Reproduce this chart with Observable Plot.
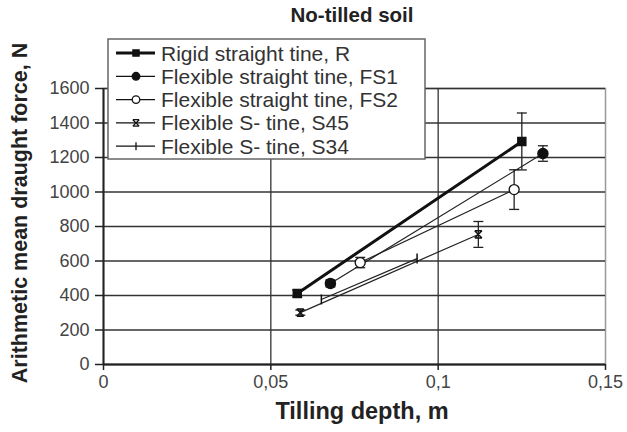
<!DOCTYPE html>
<html>
<head>
<meta charset="utf-8">
<script src="https://cdn.jsdelivr.net/npm/d3@7"></script>
<script src="https://cdn.jsdelivr.net/npm/@observablehq/plot@0.6"></script>
<style>
  html, body { margin: 0; padding: 0; background: #fff; }
  #chart { position: relative; width: 627px; height: 432px; }
  svg { font-family: "Liberation Sans", Arial, sans-serif; }
</style>
</head>
<body>
<div id="chart"></div>
<script>
// ---- data ----
const title = "No-tilled soil";
const xLabel = "Tilling depth, m";
const yLabel = "Arithmetic mean draught force, N";
const seriesKeys = ["R", "FS1", "FS2", "S45", "S34"];
const seriesNames = ["Rigid straight tine, R", "Flexible straight tine, FS1", "Flexible straight tine, FS2", "Flexible S- tine, S45", "Flexible S- tine, S34"];

const rDepth = [0.0579, 0.125];   const rForce = [412, 1293];   const rErr = [20, 165];
const fs1Depth = [0.0678, 0.1313]; const fs1Force = [470, 1223]; const fs1Err = [20, 45];
const fs2Depth = [0.0767, 0.1227]; const fs2Force = [591, 1014]; const fs2Err = [30, 115];
const s45Depth = [0.0588, 0.112];  const s45Force = [301, 754];  const s45Err = [15, 75];
const s34Depth = [0.0651, 0.0937]; const s34Force = [377, 614];  const s34Err = [0, 0];

const xTicks = [0, 0.05, 0.1, 0.15];
const xTickLabels = ["0", "0,05", "0,1", "0,15"];
const yTicks = [0, 200, 400, 600, 800, 1000, 1200, 1400, 1600];

// ---- build table ----
const src = {
  R: [rDepth, rForce, rErr], FS1: [fs1Depth, fs1Force, fs1Err], FS2: [fs2Depth, fs2Force, fs2Err],
  S45: [s45Depth, s45Force, s45Err], S34: [s34Depth, s34Force, s34Err]
};
const data = [];
for (const k of seriesKeys) {
  const [xs, ys, es] = src[k];
  xs.forEach((x, i) => data.push({series: k, x, y: ys[i], err: es[i]}));
}
const withErr = data.filter(d => d.err > 0);

const cap = {draw(ctx, size) { const r = Math.sqrt(size / Math.PI); ctx.moveTo(-r, 0); ctx.lineTo(r, 0); }};
const vtick = {draw(ctx, size) { const r = Math.sqrt(size / Math.PI); ctx.moveTo(0, -r); ctx.lineTo(0, r); }};
const xmark = {draw(ctx, size) { const r = Math.sqrt(size / Math.PI) * 0.8; ctx.moveTo(-r, -r); ctx.lineTo(r, r); ctx.moveTo(-r, r); ctx.lineTo(r, -r); ctx.moveTo(-r, -r); ctx.lineTo(r, -r); ctx.moveTo(-r, r); ctx.lineTo(r, r);}};

const sym = {R: "square", FS1: "circle", FS2: "circle", S45: xmark, S34: vtick};
const fillOf = {R: "#111", FS1: "#111", FS2: "white", S45: "none", S34: "none"};
const sizeOf = {R: 4.5, FS1: 5, FS2: 5, S45: 4.5, S34: 5};

const marks = [
  Plot.frame({stroke: "#999", strokeWidth: 1.5}),
  Plot.gridY(yTicks, {stroke: "#333", strokeOpacity: 1, strokeWidth: 1.3}),
  Plot.gridX([0.05, 0.1], {stroke: "#333", strokeOpacity: 1, strokeWidth: 1.3}),
  Plot.ruleY([0], {stroke: "#222", strokeWidth: 2}),
  Plot.ruleX([0], {stroke: "#222", strokeWidth: 2}),
  Plot.axisY(yTicks, {tickSize: 8, tickPadding: 6, fontSize: 18, fill: "#444", stroke: "#222", strokeWidth: 1.5, label: null,
    tickFormat: d => String(d)}),
  Plot.axisX(xTicks, {tickSize: 6, tickPadding: 5, fontSize: 18, fill: "#444", stroke: "#222", strokeWidth: 1.5, label: null,
    tickFormat: d => xTickLabels[xTicks.indexOf(d)]}),
  Plot.ruleX(withErr, {x: "x", y1: d => d.y - d.err, y2: d => d.y + d.err, stroke: "#222", strokeWidth: 1.3}),
  Plot.dot(withErr, {x: "x", y: d => d.y - d.err, symbol: cap, r: 5, stroke: "#222", strokeWidth: 1.3}),
  Plot.dot(withErr, {x: "x", y: d => d.y + d.err, symbol: cap, r: 5, stroke: "#222", strokeWidth: 1.3}),
  Plot.line(data.filter(d => d.series !== "R"), {x: "x", y: "y", z: "series", stroke: "#222", strokeWidth: 1.2}),
  Plot.line(data.filter(d => d.series === "R"), {x: "x", y: "y", stroke: "#111", strokeWidth: 3})
];
for (const k of seriesKeys) {
  marks.push(Plot.dot(data.filter(d => d.series === k), {
    x: "x", y: "y", symbol: sym[k], r: sizeOf[k], fill: fillOf[k], stroke: "#111", strokeWidth: k === "FS2" ? 1.3 : 1.5
  }));
}

const plot = Plot.plot({
  width: 627, height: 432,
  marginLeft: 103, marginRight: 22, marginTop: 88, marginBottom: 68,
  style: {fontFamily: "Liberation Sans, Arial, sans-serif", background: "white"},
  x: {domain: [0, 0.15]},
  y: {domain: [0, 1600]},
  marks
});
document.getElementById("chart").appendChild(plot);

// ---- titles and legend ----
const svg = d3.select(plot);
svg.append("text").attr("x", 352).attr("y", 22).attr("text-anchor", "middle")
  .attr("font-size", 20.5).attr("font-weight", "bold").attr("fill", "#222").text(title);
svg.append("text").attr("x", 362).attr("y", 419).attr("text-anchor", "middle")
  .attr("font-size", 23.5).attr("font-weight", "bold").attr("fill", "#222").text(xLabel);
svg.append("text").attr("transform", "translate(27,213) rotate(-90)").attr("text-anchor", "middle")
  .attr("font-size", 21.5).attr("font-weight", "bold").attr("fill", "#222").text(yLabel);

const lg = svg.append("g");
lg.append("rect").attr("x", 108).attr("y", 39).attr("width", 317).attr("height", 120)
  .attr("fill", "white").attr("stroke", "#666").attr("stroke-width", 1.5);
seriesKeys.forEach((k, i) => {
  const cy = 53 + i * 23.3;
  lg.append("line").attr("x1", 116).attr("x2", 155).attr("y1", cy).attr("y2", cy)
    .attr("stroke", "#111").attr("stroke-width", k === "R" ? 3 : 1.3);
  const s = sym[k];
  const symObj = typeof s === "string" ? (s === "square" ? d3.symbolSquare : d3.symbolCircle) : s;
  const r = k === "R" ? 3.5 : (k === "S34" || k === "S45" ? 4 : 3.8);
  lg.append("path").attr("transform", `translate(136,${cy})`)
    .attr("d", d3.symbol(symObj, Math.PI * r * r)())
    .attr("fill", fillOf[k]).attr("stroke", "#111").attr("stroke-width", 1.3);
  lg.append("text").attr("x", 161).attr("y", cy).attr("dy", "0.36em").attr("text-anchor", "start")
    .attr("font-size", 21).attr("fill", "#333").text(seriesNames[i]);
});
</script>
</body>
</html>
